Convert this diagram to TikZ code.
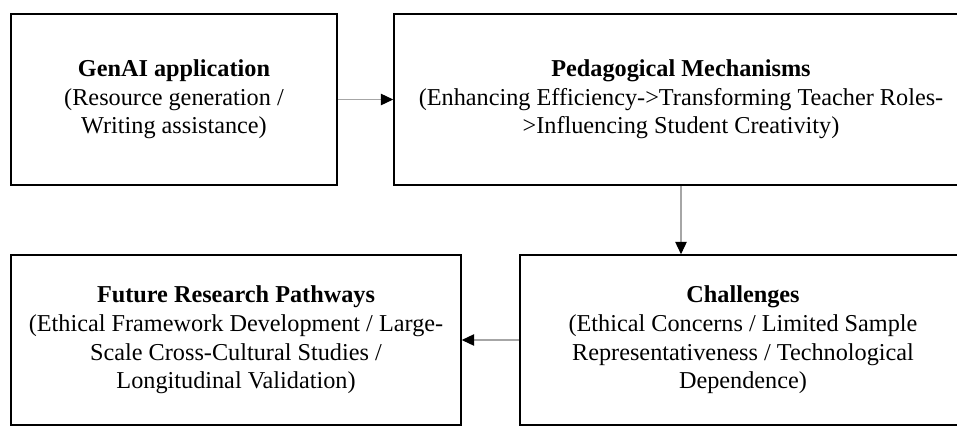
\documentclass[tikz,border=0pt]{standalone}
\usepackage{fontspec}
\setmainfont{Liberation Serif}
\usetikzlibrary{arrows.meta}

\tikzset{
	stagebox/.style={draw, line width=0.9pt, align=center, inner sep=0pt,
		font=\fontsize{13.8}{16.3}\selectfont},
	flow/.style={gray!70, line width=0.6pt, -{Triangle[length=7pt,width=6.5pt,color=black]}}
}

\begin{document}
\begin{tikzpicture}
	\useasboundingbox (0,0) rectangle (19.14,8.56);
	% top row
	\node[stagebox, minimum width=6.52cm, minimum height=3.42cm] (genai) at (3.48,6.57)
	  {\textbf{GenAI application}\\(Resource generation /\\Writing assistance)};
	\node[stagebox, minimum width=11.48cm, minimum height=3.42cm] (mech) at (13.62,6.57)
	  {\textbf{Pedagogical Mechanisms}\\(Enhancing Efficiency->Transforming Teacher Roles-\\>Influencing Student Creativity)};
	% bottom row
	\node[stagebox, minimum width=9.0cm, minimum height=3.40cm] (future) at (4.72,1.76)
	  {\textbf{Future Research Pathways}\\(Ethical Framework Development / Large-\\Scale Cross-Cultural Studies /\\Longitudinal Validation)};
	\node[stagebox, minimum width=8.92cm, minimum height=3.40cm] (chall) at (14.86,1.76)
	  {\textbf{Challenges}\\(Ethical Concerns / Limited Sample\\Representativeness / Technological\\Dependence)};

	\draw[flow] (genai) -- (mech);
	\draw[flow] (mech.south) -- (mech.south |- chall.north);
	\draw[flow] (chall) -- (future);
\end{tikzpicture}
\end{document}
